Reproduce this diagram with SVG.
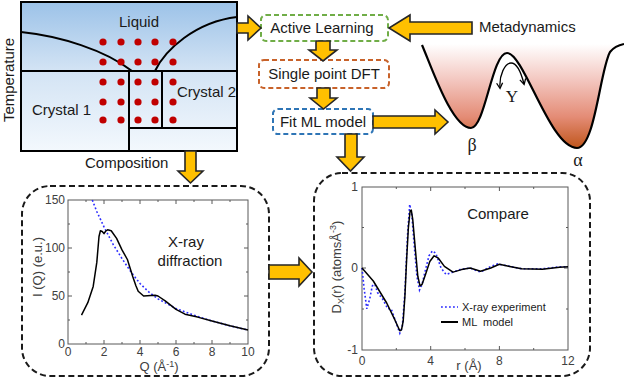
<svg xmlns="http://www.w3.org/2000/svg" width="624" height="378" viewBox="0 0 624 378">
<style>
.t{font-family:"Liberation Sans",Arial,sans-serif;font-size:15px;fill:#1a1a1a}
.g{font-family:"Liberation Serif","Times New Roman",serif;fill:#1a1a1a}
.tk{font-family:"Liberation Sans",Arial,sans-serif;font-size:12px;fill:#404040}
.ax{font-family:"Liberation Sans",Arial,sans-serif;font-size:13px;fill:#404040}
.lg{font-family:"Liberation Sans",Arial,sans-serif;font-size:11px;fill:#1a1a1a;white-space:pre}
.arr{fill:#ffc000;stroke:#262626;stroke-width:1.6;stroke-linejoin:miter}
.fb{fill:#fff;stroke-width:2;stroke-dasharray:5 3}
.big{fill:#fff;stroke:#1a1a1a;stroke-width:2;stroke-dasharray:6 3.5}
.frame{fill:none;stroke:#595959;stroke-width:1}
.pd{fill:none;stroke:#000;stroke-width:2}
.blk{fill:none;stroke:#000;stroke-width:1.5;stroke-linejoin:round}
.blu{fill:none;stroke:#2b2bff;stroke-width:1.6;stroke-dasharray:1.8 2.2}
</style>
<defs>
<linearGradient id="pdg" x1="0" y1="2" x2="0" y2="151" gradientUnits="userSpaceOnUse">
<stop offset="0" stop-color="#9cc2e8"/>
<stop offset="0.45" stop-color="#d2e3f4"/>
<stop offset="1" stop-color="#f3f8fd"/>
</linearGradient>
<linearGradient id="wg" x1="0" y1="44" x2="0" y2="148" gradientUnits="userSpaceOnUse">
<stop offset="0" stop-color="#ffffff"/>
<stop offset="0.35" stop-color="#f3c6bf"/>
<stop offset="0.7" stop-color="#e48c76"/>
<stop offset="1" stop-color="#c0561c"/>
</linearGradient>
<marker id="ah" viewBox="0 0 8 8" refX="6" refY="4" markerWidth="8" markerHeight="8" markerUnits="userSpaceOnUse" orient="auto-start-reverse">
<path d="M1,1 L6.5,4 L1,7" fill="none" stroke="#000" stroke-width="1.3"/>
</marker>
</defs>

<g id="phase-diagram">
<rect x="21" y="2" width="216" height="149" fill="url(#pdg)"/>
<path class="pd" d="M21,71 H237 M129,71 V151 M162,71 V128 M129,128 H237"/>
<path class="pd" d="M21,32 C60,36 105,50 132,71"/>
<path class="pd" d="M155,71 C165,50 195,22 237,17"/>
<rect x="21" y="2" width="216" height="149" fill="none" stroke="#000" stroke-width="2"/>
<g fill="#c00000">
<circle cx="103" cy="42" r="3.6"/><circle cx="121" cy="42" r="3.6"/><circle cx="138" cy="42" r="3.6"/><circle cx="155" cy="42" r="3.6"/><circle cx="173" cy="42" r="3.6"/>
<circle cx="103" cy="62" r="3.6"/><circle cx="121" cy="62" r="3.6"/><circle cx="138" cy="62" r="3.6"/><circle cx="155" cy="62" r="3.6"/><circle cx="173" cy="62" r="3.6"/>
<circle cx="103" cy="82" r="3.6"/><circle cx="121" cy="82" r="3.6"/><circle cx="138" cy="82" r="3.6"/><circle cx="155" cy="82" r="3.6"/><circle cx="173" cy="82" r="3.6"/>
<circle cx="103" cy="102" r="3.6"/><circle cx="121" cy="102" r="3.6"/><circle cx="138" cy="102" r="3.6"/><circle cx="155" cy="102" r="3.6"/><circle cx="173" cy="102" r="3.6"/>
<circle cx="103" cy="120" r="3.6"/><circle cx="121" cy="120" r="3.6"/><circle cx="138" cy="120" r="3.6"/><circle cx="155" cy="120" r="3.6"/><circle cx="173" cy="120" r="3.6"/>
</g>
<text class="t" x="139" y="27" text-anchor="middle">Liquid</text>
<text class="t" x="32" y="115">Crystal 1</text>
<text class="t" x="177" y="97">Crystal 2</text>
<text class="t" transform="translate(14,80) rotate(-90)" text-anchor="middle">Temperature</text>
<text class="t" x="85" y="168">Composition</text>
</g>

<g id="active-learning">
<rect class="fb" x="261" y="15" width="127" height="26" rx="5" stroke="#70ad47"/>
<text class="t" x="322" y="33" text-anchor="middle">Active Learning</text>
</g>
<g id="single-point-dft">
<rect class="fb" x="259" y="60" width="130" height="28" rx="5" stroke="#c8622a"/>
<text class="t" x="324" y="79" text-anchor="middle">Single point DFT</text>
</g>
<g id="fit-ml-model">
<rect class="fb" x="273" y="109" width="100" height="25" rx="5" stroke="#2e75b6"/>
<text class="t" x="323" y="127" text-anchor="middle">Fit ML model</text>
</g>
<g id="metadynamics">
<text class="t" x="479" y="32">Metadynamics</text>
</g>

<g id="potential">
<path d="M422,45 C432,68 452,128 471,128 C485,128 492,53 507,53 C524,53 550,148 577,148 C595,148 600,70 610,52 C614,47 619,45 624,44 L624,43 L422,43 Z" fill="url(#wg)"/>
<path d="M422,45 C432,68 452,128 471,128 C485,128 492,53 507,53 C524,53 550,148 577,148 C595,148 600,70 610,52 C614,47 619,45 624,44" fill="none" stroke="#000" stroke-width="2.2"/>
<path d="M500,88 C499,75 505,63 511,63 C517,63 521,72 524,84" fill="none" stroke="#000" stroke-width="1.3" marker-start="url(#ah)" marker-end="url(#ah)"/>
<text class="g" x="512" y="102" font-size="17" text-anchor="middle">Y</text>
<text class="g" x="472" y="151" font-size="18" text-anchor="middle">β</text>
<text class="g" x="578" y="166" font-size="18" text-anchor="middle">α</text>
</g>

<g id="xray-diffraction">
<rect class="big" x="22" y="186" width="247" height="190" rx="28"/>
<rect class="frame" x="68" y="200" width="180" height="144"/>
<path class="frame" d="M104,344v-4 M140,344v-4 M176,344v-4 M212,344v-4 M86,344v-2 M122,344v-2 M158,344v-2 M194,344v-2 M230,344v-2 M104,200v4 M140,200v4 M176,200v4 M212,200v4 M86,200v2 M122,200v2 M158,200v2 M194,200v2 M230,200v2 M68,296h4 M68,248h4 M68,320h2 M68,272h2 M68,224h2 M248,296h-4 M248,248h-4 M248,320h-2 M248,272h-2 M248,224h-2"/>
<g class="tk" text-anchor="end">
<text x="65" y="204">150</text><text x="65" y="252">100</text><text x="65" y="300">50</text><text x="65" y="348">0</text>
</g>
<g class="tk" text-anchor="middle" font-size="11.5">
<text x="68" y="356">0</text><text x="104" y="356">2</text><text x="140" y="356">4</text><text x="176" y="356">6</text><text x="212" y="356">8</text><text x="248" y="356">10</text>
</g>
<text class="ax" transform="translate(42,267) rotate(-90)" text-anchor="middle">I (Q) (e.u.)</text>
<text class="ax" x="159" y="371" text-anchor="middle">Q (Å<tspan font-size="9" dy="-4">-1</tspan><tspan dy="4">)</tspan></text>
<polyline class="blu" points="92.3,200 96.8,211.5 104,226.9 113,244.2 122,258.6 131,272 140,283.5 149,292.2 158,298.9 167,303.7 176,308.5 194,315.2 212,321 230,325.8 248,330.1"/>
<polyline class="blk" points="81.5,315.2 87.8,302.7 93.2,286.4 96.8,262.4 99,236.5 100.4,230.7 102.2,231.5 104,233.6 105.8,231 107.6,229.8 111.2,230.7 116.6,238.4 122,249.9 127.4,259.5 132.8,276.8 136,286 138.2,291.2 143.6,296 150.8,295.5 155,295.3 158,296 165.2,300.8 176,309.4 185,314.2 197.6,317.1 212,321 230,325.8 248,330.1"/>
<text class="t" x="186" y="247" text-anchor="middle">X-ray</text>
<text class="t" x="190" y="266" text-anchor="middle">diffraction</text>
</g>

<g id="compare">
<rect class="big" x="314" y="173" width="276" height="203" rx="28"/>
<rect class="frame" x="362" y="187" width="206" height="163"/>
<path class="frame" d="M430.7,350v-4 M499.4,350v-4 M396.3,350v-2 M465,350v-2 M533.7,350v-2 M430.7,187v4 M499.4,187v4 M396.3,187v2 M465,187v2 M533.7,187v2 M362,268h4 M362,227.5h2 M362,309h2 M568,268h-4 M568,227.5h-2 M568,309h-2"/>
<g class="tk" text-anchor="end">
<text x="358" y="191">1</text><text x="358" y="272">0</text><text x="358" y="354">-1</text>
</g>
<g class="tk" text-anchor="middle">
<text x="362" y="365">0</text><text x="430.7" y="365">4</text><text x="499.4" y="365">8</text><text x="568" y="365">12</text>
</g>
<text class="ax" transform="translate(341,267) rotate(-90)" text-anchor="middle">D<tspan font-size="9" dy="3">X</tspan><tspan dy="-3">(r) (atomsÅ</tspan><tspan font-size="9" dy="-5">-3</tspan><tspan dy="5">)</tspan></text>
<text class="ax" x="469" y="370" text-anchor="middle">r (Å)</text>
<polyline class="blu" points="362,268 364.1,288.4 366.8,308.8 369.7,299 372.3,285.9 374.9,284.3 377.5,292.5 382.6,299 387.8,308.8 391.2,308.8 394.6,318.5 399.8,333.2 402.3,326.7 404.9,292.5 407.5,235.4 409.7,204.4 411.8,215 414.4,247.6 416.9,276.2 419.5,290 422.1,284.3 425.5,269.6 429,255.8 432.4,250.9 435.8,253.3 441,268 446.1,274.5 453,272.1 459.9,269.6 470.2,268 480.5,272.1 490.8,266.4 497.6,263.9 509.7,266.4 521.7,268.8 542.3,268.8 559.5,266.8 568,266.8"/>
<polyline class="blk" points="362,268 373.3,281 386.7,303 395,320.2 399.8,330.8 401.5,329.9 403.2,321 404.9,296.5 406.6,259.9 408.4,227.3 410.1,211 411.3,210.1 412.7,219.1 415.2,247.6 417.8,276.2 420,285.9 422.1,284.3 425.5,274.5 429.8,261.5 434.1,255.8 438.4,258.2 444.4,266.4 453,272.1 461.6,269.6 470.2,268 480.5,271.3 490.8,268 499.4,264.3 509.7,266.4 521.7,268.8 542.3,269.2 559.5,267.2 568,266.8"/>
<text class="t" x="498" y="219" text-anchor="middle">Compare</text>
<line class="blu" x1="441" y1="307" x2="458" y2="307"/>
<line x1="441" y1="322" x2="458" y2="322" stroke="#000" stroke-width="2"/>
<text class="lg" x="462" y="311">X-ray experiment</text>
<text class="lg" x="462" y="326">ML  model</text>
</g>

<g id="connectors">
<polygon class="arr" points="237,23 248,23 248,16 261,28 248,40 248,33 237,33"/>
<polygon class="arr" points="472,22 410,22 410,15 389,28 410,41 410,34 472,34"/>
<polygon class="arr" points="316,41 330,41 330,50 337,50 323,61 309,50 316,50"/>
<polygon class="arr" points="317,88 330,88 330,98 337,98 323.5,109 310,98 317,98"/>
<polygon class="arr" points="373,116 435,116 435,110 448,122 435,134 435,128 373,128"/>
<polygon class="arr" points="345,134 357,134 357,157 364,157 350.5,171 337,157 345,157"/>
<polygon class="arr" points="185,151 196,151 196,171 203,171 190.5,183 178,171 185,171"/>
<polygon class="arr" points="269,265 299,265 299,258 312,272 299,286 299,279 269,279"/>
</g>
</svg>
